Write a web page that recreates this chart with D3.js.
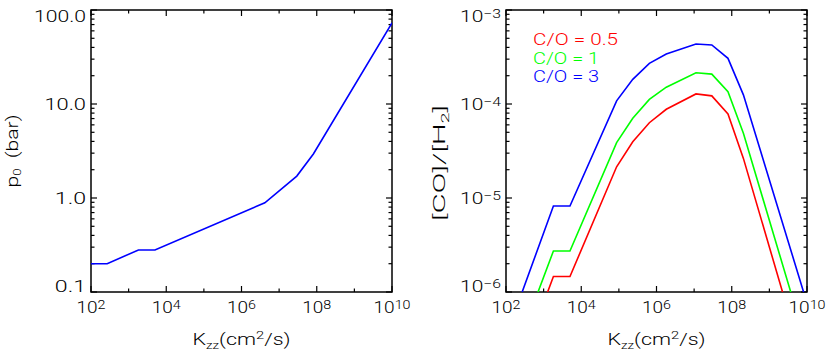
<!DOCTYPE html>
<html>
<head>
<meta charset="utf-8">
<script src="https://cdn.jsdelivr.net/npm/d3@7"></script>
<style>
  body { margin: 0; background: #fff; }
  text { font-family: Roboto, "Open Sans", sans-serif; font-weight: 300; fill: #000; white-space: pre; }
</style>
</head>
<body>
<div id="chart"></div>
<script>
// K_zz grid (cm^2/s) shared by both panels
const kzzLeft = [1e2, 269, 1820, 5010, 4.17e6, 2.95e7, 8.13e7, 1e10];
const p0 = [0.2, 0.2, 0.28, 0.28, 0.89, 1.71, 2.94, 73];

const kzzRight = [269, 1820, 5010, 8.71e4, 2.34e5, 6.46e5, 1.82e6, 1.12e7, 2.95e7, 7.94e7, 2.04e8, 1e10];
const coRatio05 = [1.88e-7, 1.46e-6, 1.46e-6, 2.15e-5, 3.97e-5, 6.32e-5, 8.79e-5, 1.28e-4, 1.22e-4, 7.83e-5, 2.64e-5, 1.29e-7];
const coRatio1  = [3.55e-7, 2.73e-6, 2.73e-6, 3.88e-5, 7.05e-5, 1.12e-4, 1.51e-4, 2.15e-4, 2.08e-4, 1.35e-4, 4.88e-5, 2.63e-7];
const coRatio3  = [1.0e-6, 8.22e-6, 8.22e-6, 1.08e-4, 1.83e-4, 2.71e-4, 3.40e-4, 4.35e-4, 4.25e-4, 3.06e-4, 1.25e-4, 7.6e-7];

const seriesNames = ["C/O = 0.5", "C/O = 1", "C/O = 3"];
const seriesColors = ["#ff0000", "#00ff00", "#0000ff"];

const xTicks = [1e2, 1e4, 1e6, 1e8, 1e10];
const xTickExp = ["2", "4", "6", "8", "10"];
const leftYTicks = [0.1, 1, 10, 100];
const leftYLabels = ["0.1", "1.0", "10.0", "100.0"];
const rightYTicks = [1e-6, 1e-5, 1e-4, 1e-3];
const rightYExp = ["\u22126", "\u22125", "\u22124", "\u22123"];

const W = 830, H = 356;
const plotTop = 10, plotBottom = 292;

const svg = d3.select("#chart").append("svg")
    .attr("width", W).attr("height", H);

// the original uses a wide vector font: widen glyphs to the measured label width
function widen(t, len) {
    return t.attr("textLength", len).attr("lengthAdjust", "spacingAndGlyphs");
}

// "10" with a raised exponent
function powerLabel(t, exp, supW) {
    t.append("tspan").text("10");
    t.append("tspan").attr("font-size", 12).attr("dy", -4).text(exp);
    widen(t, 21 + supW * exp.length);
}

function drawPanel(x0, x1, yDomain, opts) {
    const x = d3.scaleLog().domain([1e2, 1e10]).range([x0, x1]);
    const y = d3.scaleLog().domain(yDomain).range([plotBottom, plotTop]);
    const g = svg.append("g");

    // minor ticks: odd decades on x, 2..9 on y
    const xMinor = d3.range(3, 10, 2).map(e => Math.pow(10, e));
    const yMinor = y.ticks(30).filter(v => {
        const m = v / Math.pow(10, Math.floor(Math.log10(v) + 1e-9));
        return Math.abs(m - 1) > 1e-6;
    });
    const major = 6, minor = 3.5;

    const ticks = g.append("g").attr("stroke", "#000").attr("stroke-width", 1.2);
    xTicks.forEach(v => {
        ticks.append("line").attr("x1", x(v)).attr("x2", x(v)).attr("y1", plotBottom).attr("y2", plotBottom - major);
        ticks.append("line").attr("x1", x(v)).attr("x2", x(v)).attr("y1", plotTop).attr("y2", plotTop + major);
    });
    xMinor.forEach(v => {
        ticks.append("line").attr("x1", x(v)).attr("x2", x(v)).attr("y1", plotBottom).attr("y2", plotBottom - minor);
        ticks.append("line").attr("x1", x(v)).attr("x2", x(v)).attr("y1", plotTop).attr("y2", plotTop + minor);
    });
    opts.yTicks.forEach(v => {
        ticks.append("line").attr("x1", x0).attr("x2", x0 + major).attr("y1", y(v)).attr("y2", y(v));
        ticks.append("line").attr("x1", x1).attr("x2", x1 - major).attr("y1", y(v)).attr("y2", y(v));
    });
    yMinor.forEach(v => {
        ticks.append("line").attr("x1", x0).attr("x2", x0 + minor).attr("y1", y(v)).attr("y2", y(v));
        ticks.append("line").attr("x1", x1).attr("x2", x1 - minor).attr("y1", y(v)).attr("y2", y(v));
    });

    // frame
    g.append("rect")
        .attr("x", x0).attr("y", plotTop)
        .attr("width", x1 - x0).attr("height", plotBottom - plotTop)
        .attr("fill", "none").attr("stroke", "#000").attr("stroke-width", 1.5);

    // x tick labels (10^n)
    xTicks.forEach((v, i) => {
        const t = g.append("text")
            .attr("x", x(v)).attr("y", 313)
            .attr("text-anchor", "middle")
            .attr("font-size", 16);
        powerLabel(t, xTickExp[i], 8);
    });

    // y tick labels, end labels kept inside the axis range
    opts.yTicks.forEach((v, i) => {
        let yy = y(v) + 6;
        if (i === 0) yy = y(v);
        if (i === opts.yTicks.length - 1) yy = y(v) + 12;
        const t = g.append("text")
            .attr("x", x0 - 5).attr("y", yy)
            .attr("text-anchor", "end")
            .attr("font-size", 16);
        if (opts.yExp) {
            powerLabel(t, opts.yExp[i], 10);
        } else {
            widen(t.text(opts.yLabels[i]), opts.yLabels[i].length * 10.4);
        }
    });

    // x title: K_zz(cm^2/s)
    const xt = g.append("text")
        .attr("x", (x0 + x1) / 2).attr("y", 345)
        .attr("text-anchor", "middle").attr("font-size", 16);
    xt.append("tspan").text("K");
    xt.append("tspan").attr("font-size", 10).attr("dy", 4).text("zz");
    xt.append("tspan").attr("dy", -4).text("(cm");
    xt.append("tspan").attr("font-size", 11).attr("dy", -6).text("2");
    xt.append("tspan").attr("dy", 6).text("/s)");
    widen(xt, 98);

    // y title
    const yt = g.append("text")
        .attr("transform", `translate(${opts.yTitleX},${opts.yTitleY}) rotate(-90)`)
        .attr("text-anchor", "middle").attr("font-size", 16);
    opts.yTitle(yt);
    widen(yt, opts.yTitleLen);

    // clip for data lines
    const clipId = "clip" + Math.round(x0);
    svg.append("clipPath").attr("id", clipId)
        .append("rect").attr("x", x0).attr("y", plotTop)
        .attr("width", x1 - x0).attr("height", plotBottom - plotTop);

    return {x, y, g, clipId};
}

// ---- left panel: p0 vs Kzz
const left = drawPanel(91, 392, [0.1, 100], {
    yTicks: leftYTicks,
    yLabels: leftYLabels,
    yTitleX: 18, yTitleY: 151, yTitleLen: 73,
    yTitle: t => {
        t.append("tspan").text("p");
        t.append("tspan").attr("font-size", 10).attr("dy", 3).text("0");
        t.append("tspan").attr("dy", -3).text("  (bar)");
    }
});

const lineL = d3.line().x(d => left.x(d[0])).y(d => left.y(d[1]));
left.g.append("path")
    .datum(d3.zip(kzzLeft, p0))
    .attr("clip-path", `url(#${left.clipId})`)
    .attr("d", lineL)
    .attr("fill", "none").attr("stroke", "#0000ff").attr("stroke-width", 1.6);

// ---- right panel: [CO]/[H2] vs Kzz
const right = drawPanel(506, 807, [1e-6, 1e-3], {
    yTicks: rightYTicks,
    yExp: rightYExp,
    yTitleX: 445, yTitleY: 163, yTitleLen: 116,
    yTitle: t => {
        t.append("tspan").text("[CO]/[H");
        t.append("tspan").attr("font-size", 10).attr("dy", 4).text("2");
        t.append("tspan").attr("dy", -4).text("]");
    }
});

const lineR = d3.line().x(d => right.x(d[0])).y(d => right.y(d[1]));
[coRatio05, coRatio1, coRatio3].forEach((vals, i) => {
    right.g.append("path")
        .datum(d3.zip(kzzRight, vals))
        .attr("clip-path", `url(#${right.clipId})`)
        .attr("d", lineR)
        .attr("fill", "none").attr("stroke", seriesColors[i]).attr("stroke-width", 1.6);
});

// legend
seriesNames.forEach((name, i) => {
    const t = right.g.append("text")
        .attr("x", 533).attr("y", 45 + i * 18.7)
        .attr("font-size", 15.8)
        .style("fill", seriesColors[i])
        .text(name);
    widen(t, name.length * 9.45);
});
</script>
</body>
</html>
